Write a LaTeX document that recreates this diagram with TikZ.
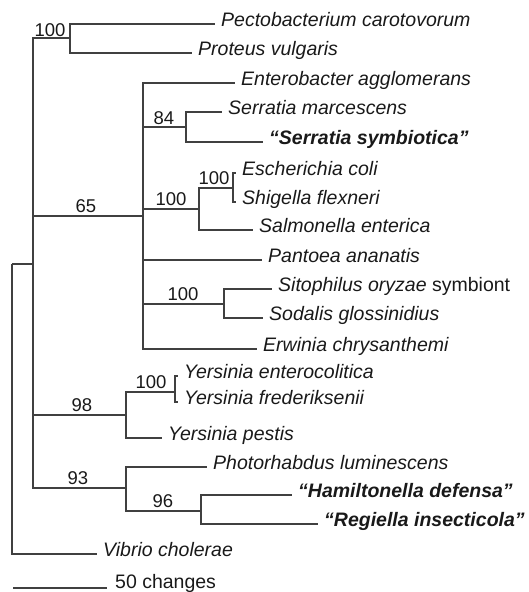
\documentclass[tikz,border=0pt]{standalone}
\usepackage{fontspec}
\setmainfont{Liberation Sans}
\begin{document}
\begin{tikzpicture}[x=1pt,y=-1pt,
  br/.style={draw=black!75, line width=1.25pt},
  leaf/.style={anchor=west, inner xsep=6pt, inner ysep=0pt, text height=0.5em, text depth=0pt,
    font=\fontsize{19.5}{23}\selectfont\itshape, text=black!90},
  sym/.style={leaf, font=\fontsize{19.5}{23}\selectfont\bfseries\itshape},
  boot/.style={anchor=base, inner sep=0pt, font=\fontsize{18.5}{22}\selectfont, text=black!90},
]
\useasboundingbox (0,0) rectangle (528,592);

% internal nodes
\coordinate (R0) at (12,264);
\coordinate (R1) at (33,264);
\coordinate (N100a) at (70,38);
\coordinate (N65) at (143,216);
\coordinate (N84) at (186,127);
\coordinate (N100b) at (199,209);
\coordinate (N100c) at (233,188);
\coordinate (N100d) at (224,304);
\coordinate (N98) at (126,415);
\coordinate (N100e) at (175,392);
\coordinate (N93) at (126,488);
\coordinate (N96) at (201,511);

% leaves
\node[leaf] (pecto) at (215,24) {Pectobacterium carotovorum};
\node[leaf] (prot) at (192,53) {Proteus vulgaris};
\node[leaf] (entb) at (235,83) {Enterobacter agglomerans};
\node[leaf] (smar) at (222,112) {Serratia marcescens};
\node[sym] (ssym) at (263,142) {“Serratia symbiotica”};
\node[leaf] (ecol) at (236,173) {Escherichia coli};
\node[leaf] (shig) at (236,202) {Shigella flexneri};
\node[leaf] (salm) at (253,230) {Salmonella enterica};
\node[leaf] (pant) at (262,260) {Pantoea ananatis};
\node[leaf] (sito) at (272,289) {Sitophilus oryzae \textup{symbiont}};
\node[leaf] (soda) at (263,318) {Sodalis glossinidius};
\node[leaf] (erwi) at (257,349) {Erwinia chrysanthemi};
\node[leaf] (yent) at (178,376) {Yersinia enterocolitica};
\node[leaf] (yfre) at (178,402) {Yersinia frederiksenii};
\node[leaf] (ypes) at (162,438) {Yersinia pestis};
\node[leaf] (phot) at (207,467) {Photorhabdus luminescens};
\node[sym] (hami) at (292,495) {“Hamiltonella defensa”};
\node[sym] (regi) at (318,524) {“Regiella insecticola”};
\node[leaf] (vibr) at (97,554) {Vibrio cholerae};

% branches
\draw[br] (R0) |- (R1);
\draw[br] (R0) |- (vibr.west);
\draw[br] (R1) |- (N100a);
\draw[br] (R1) |- (N65);
\draw[br] (R1) |- (N98);
\draw[br] (R1) |- (N93);
\draw[br] (N100a) |- (pecto.west);
\draw[br] (N100a) |- (prot.west);
\draw[br] (N65) |- (entb.west);
\draw[br] (N65) |- (N84);
\draw[br] (N65) |- (N100b);
\draw[br] (N65) |- (pant.west);
\draw[br] (N65) |- (N100d);
\draw[br] (N65) |- (erwi.west);
\draw[br] (N84) |- (smar.west);
\draw[br] (N84) |- (ssym.west);
\draw[br] (N100b) |- (N100c);
\draw[br] (N100b) |- (salm.west);
\draw[br] (N100c) |- (ecol.west);
\draw[br] (N100c) |- (shig.west);
\draw[br] (N100d) |- (sito.west);
\draw[br] (N100d) |- (soda.west);
\draw[br] (N98) |- (N100e);
\draw[br] (N98) |- (ypes.west);
\draw[br] (N100e) |- (yent.west);
\draw[br] (N100e) |- (yfre.west);
\draw[br] (N93) |- (phot.west);
\draw[br] (N93) |- (N96);
\draw[br] (N96) |- (hami.west);
\draw[br] (N96) |- (regi.west);

% bootstrap values
\node[boot] (b100a) at (50,36) {100};
\node[boot] (b65) at (86,212) {65};
\node[boot] (b84) at (164,124) {84};
\node[boot] (b100b) at (171,205) {100};
\node[boot] (b100c) at (214,184) {100};
\node[boot] (b100d) at (183,300) {100};
\node[boot] (b98) at (82,411) {98};
\node[boot] (b100e) at (151,388) {100};
\node[boot] (b93) at (78,484) {93};
\node[boot] (b96) at (163,507) {96};

% scale bar
\coordinate (sbL) at (13,588);
\coordinate (sbR) at (107,588);
\node[anchor=base west, inner sep=0pt, font=\fontsize{19.5}{23}\selectfont, text=black!90] (sbt) at (115,588) {50 changes};
\draw[br] (sbL) -- (sbR);
\end{tikzpicture}
\end{document}
